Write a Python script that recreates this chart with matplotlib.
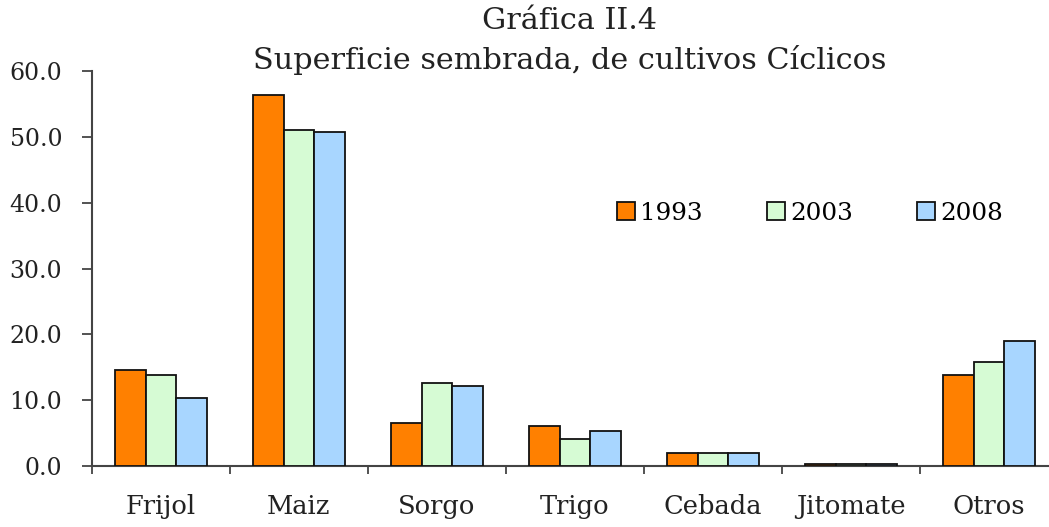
import matplotlib
matplotlib.use("Agg")
import matplotlib.pyplot as plt
import numpy as np
from matplotlib.ticker import FixedLocator, NullFormatter

categories = ["Frijol", "Maiz", "Sorgo", "Trigo", "Cebada", "Jitomate", "Otros"]
years = ["1993", "2003", "2008"]
v1993 = [14.6, 56.4, 6.5, 6.1, 2.0, 0.3, 13.8]
v2003 = [13.8, 51.1, 12.6, 4.1, 2.0, 0.3, 15.8]
v2008 = [10.4, 50.7, 12.2, 5.3, 2.0, 0.3, 19.0]
colors = ["#FF8000", "#D6FBD4", "#A8D6FF"]
yticks = [0, 10, 20, 30, 40, 50, 60]

plt.rcParams['font.family'] = ['DejaVu Serif']

fig = plt.figure(figsize=(10.49, 5.27), dpi=100)
ax = fig.add_axes([92/1049, 1-466/527, (1058-92)/1049, (466-71)/527])

x = np.arange(len(categories))
w = 0.222
series = [v1993, v2003, v2008]
for i, (vals, c, lab) in enumerate(zip(series, colors, years)):
    ax.bar(x + (i-1)*w, vals, width=w, color=c, edgecolor="#111111", linewidth=1.3, label=lab, zorder=3)

ax.set_xlim(-0.5, 6.5)
ax.set_ylim(0, 60)
ax.set_yticks(yticks)
ax.set_yticklabels([f"{v:.1f}" for v in yticks])
ax.set_xticks(x)
ax.set_xticklabels(categories)
ax.xaxis.set_minor_locator(FixedLocator(np.arange(-0.5, 7.0, 1.0)))
ax.xaxis.set_minor_formatter(NullFormatter())
ax.tick_params(axis='x', which='major', length=0, pad=20, labelsize=18.5, colors="#222222")
ax.tick_params(axis='x', which='minor', length=6, width=1.3, direction='out', color="#444444")
ax.tick_params(axis='y', length=7, width=1.3, direction='out', pad=14.5, labelsize=17, color="#444444", labelcolor="#222222")
for s in ["top", "right"]:
    ax.spines[s].set_visible(False)
for s in ["left", "bottom"]:
    ax.spines[s].set_linewidth(1.5)
    ax.spines[s].set_color("#444444")

fig.text(570/1049, 1-21/527, "Gráfica II.4", ha='center', va='center', fontsize=21.8, color="#222222")
fig.text(570/1049, 1-60/527, "Superficie sembrada, de cultivos Cíclicos", ha='center', va='center', fontsize=21.8, color="#222222")

leg = ax.legend(ncol=3, loc='center', bbox_to_anchor=(810/1049, 1-213/527), bbox_transform=fig.transFigure,
                frameon=False, fontsize=17.7, handlelength=0.75, handleheight=0.75, handletextpad=0.2,
                columnspacing=2.6)

fig.savefig("out.png", dpi=100)
